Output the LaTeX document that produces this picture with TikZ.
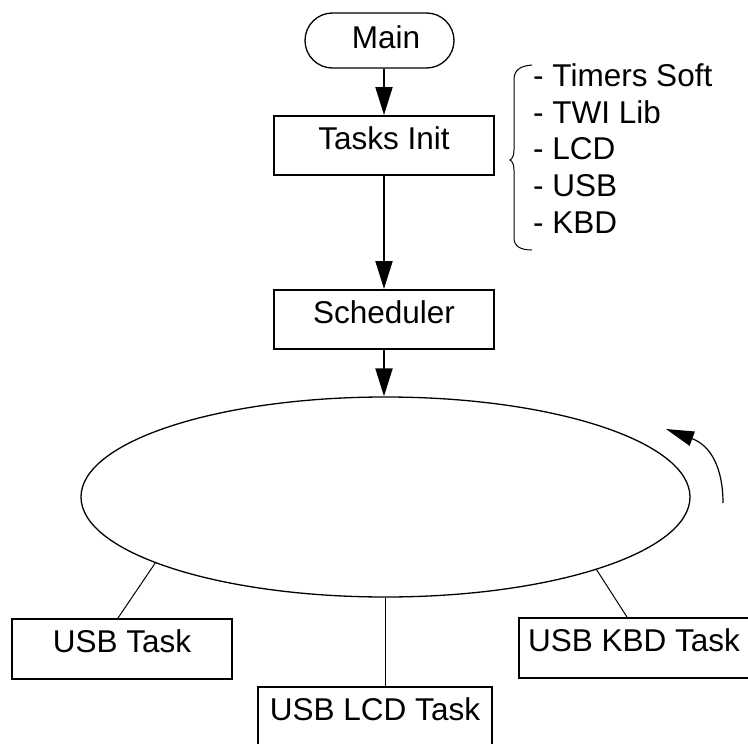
\documentclass[tikz,border=0pt]{standalone}
\usepackage{fontspec}
\setmainfont{Liberation Sans}
\usetikzlibrary{arrows.meta,shapes.misc,shapes.geometric}
\begin{document}
\begin{tikzpicture}[x=1pt,y=-1pt,
  lbl/.style={font=\fontsize{31.5}{38}\selectfont},
  box/.style={draw, line width=2pt, rectangle, inner sep=0pt, lbl, text height=22.5pt, text depth=15.5pt},
  pill/.style={draw, line width=1.3pt, rounded rectangle, inner sep=0pt},
  arr/.style={line width=2pt, -{Triangle[length=28pt,width=17pt]}},
  thinline/.style={line width=1pt},
  item/.style={lbl, anchor=base west, inner sep=0pt}]
\useasboundingbox (0,0) rectangle (748,744);
% nodes
\node[pill, minimum width=149pt, minimum height=55pt] (main) at (379.5,40.5) {};
\node[lbl, anchor=base, inner sep=0pt] (maintxt) at (386,48) {Main};
\node[box, minimum width=220pt, minimum height=59pt] (init) at (384,145.5) {Tasks Init};
\node[box, minimum width=220pt, minimum height=59pt] (sched) at (384,319.5) {Scheduler};
\node[draw, ellipse, line width=1.3pt, minimum width=609pt, minimum height=200pt, inner sep=0pt] (ring) at (385.5,497) {};
\node[box, minimum width=220pt, minimum height=60pt] (usbt) at (122,649) {USB Task};
\node[box, minimum width=234pt, minimum height=60pt] (lcdt) at (375,717) {USB LCD Task};
\node[box, minimum width=230pt, minimum height=60pt] (kbdt) at (634,648) {USB KBD Task};
% list
\node[item] (l1) at (533,86) {- Timers Soft};
\node[item] (l2) at (533,123) {- TWI Lib};
\node[item] (l3) at (533,159.5) {- LCD};
\node[item] (l4) at (533,196) {- USB};
\node[item] (l5) at (533,233) {- KBD};
% brace
\draw[line width=1pt] (532,65) .. controls (520,66) and (514,70) .. (514,80) -- (514,150)
  .. controls (514,156) and (512,159) .. (510,160) .. controls (512,161) and (514,164) .. (514,170)
  -- (514,238) .. controls (514,246) and (520,250) .. (532,250);
% arrows
\draw[arr] (init.north |- main.south) -- (init.north);
\draw[arr] (init) -- (sched);
\draw[arr] (sched) -- (sched.south |- ring.north);
% connectors
\draw[thinline] (ring.196.5) -- ([xshift=-4pt]usbt.north);
\draw[line width=1.7pt] (ring.south) -- (ring.south |- lcdt.north);
\draw[thinline] (ring.341.1) -- ([xshift=-7pt]kbdt.north);
% rotation arrow
\coordinate (cs) at (723,503);
\coordinate (ce) at (666,429);
\draw[line width=1.2pt, -{Triangle[length=28pt,width=15pt]}] (cs) .. controls (723,470) and (712,446) .. (ce);
\end{tikzpicture}
\end{document}
